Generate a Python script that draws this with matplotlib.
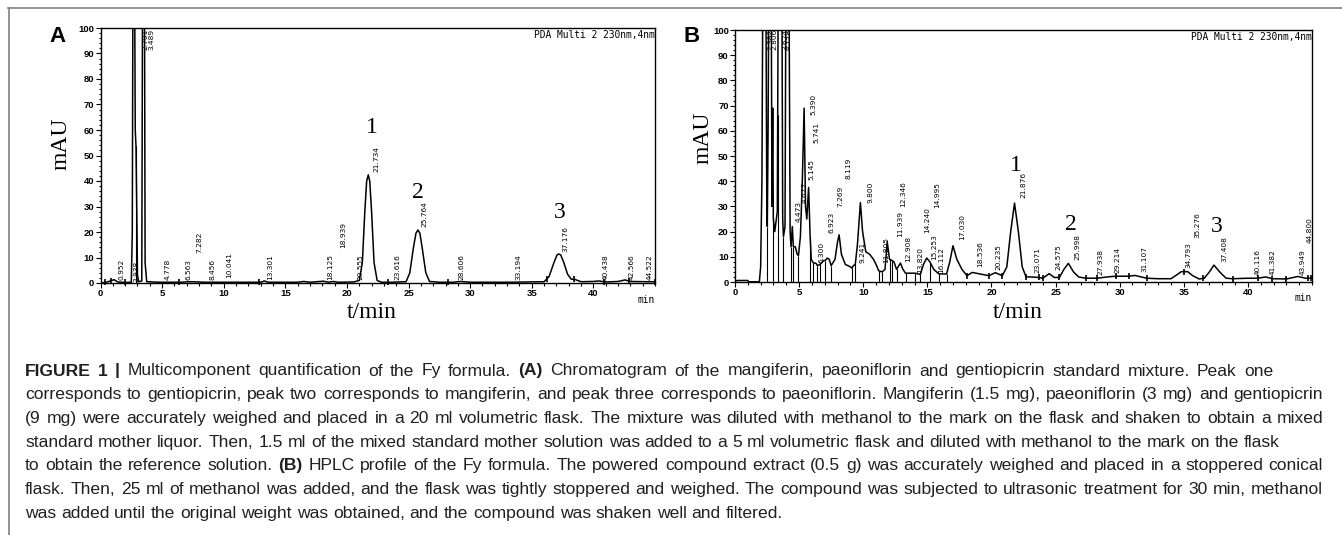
import numpy as np
import matplotlib
matplotlib.use('Agg')
import matplotlib.pyplot as plt
from matplotlib import font_manager
from matplotlib.font_manager import FontProperties
from matplotlib.lines import Line2D
from matplotlib.ticker import MultipleLocator


def pick_font(*names):
    have = {f.name for f in font_manager.fontManager.ttflist}
    for n in names:
        if n in have:
            return n
    return 'DejaVu Sans'


narrow = pick_font('Liberation Sans Narrow', 'DejaVu Sans Condensed', 'DejaVu Sans')
narrow_size = 6.2 if narrow == 'Liberation Sans Narrow' else 5.3
sans = pick_font('Liberation Sans', 'Arial')
serif = pick_font('Liberation Serif', 'DejaVu Serif')
mono = 'DejaVu Sans Mono'

# ---- Panel A: standard mixture (time in min, signal in mAU) ----
a_time = [0, 0.4, 0.8, 1.1, 1.4, 2.0, 2.5, 2.58, 2.64, 2.76, 2.82, 2.88, 2.94, 3.0, 3.1,
          3.35, 3.42, 3.56, 3.62, 3.75, 4.8, 6.5, 7.3, 8.5, 10.0, 13.0, 13.3, 13.6, 16.0,
          16.5, 17.0, 18.1, 18.5, 18.9, 19.3, 20.55, 21.0, 21.25, 21.45, 21.6, 21.73, 21.85,
          22.0, 22.2, 22.45, 22.8, 23.6, 24.8, 25.1, 25.4, 25.6, 25.76, 25.92, 26.1, 26.4,
          26.7, 27.5, 28.6, 29.2, 30.0, 33.2, 36.0, 36.4, 36.8, 37.05, 37.18, 37.35, 37.6,
          37.9, 38.2, 38.5, 39.0, 40.0, 40.44, 41.0, 42.0, 42.57, 43.0, 44.5, 45]
a_mau = [0, 0.2, 0.8, 1.3, 0.4, 0.2, 0.3, 20, 130, 130, 60, 53.7, 30, 3, 0.5,
         0.8, 130, 130, 8, 0.5, 0.3, 0.3, 0.5, 0.3, 0.3, 0.3, 0.8, 0.3, 0.3,
         0.6, 0.3, 0.7, 0.3, 0.6, 0.3, 0.4, 1, 8, 28, 40, 42.4, 40,
         28, 8, 1, 0.3, 0.3, 0.5, 4, 14, 19.5, 20.8, 19.5, 14, 4,
         0.6, 0.3, 0.3, 0.6, 0.3, 0.3, 0.5, 2.5, 8, 11, 11.4, 11, 8,
         3.5, 1.5, 1.4, 0.5, 0.6, 0.8, 0.4, 0.6, 1.2, 0.6, 0.5, 0.5]
a_drops = [2.88]
a_marks = [0.4, 0.87, 2.0, 6.4, 12.9, 23.3, 28.2, 36.2, 38.4, 40.9, 42.9, 45.0]
a_labels = ['0.952', '2.938', '2.701', '3.489', '4.778', '6.563', '7.282', '8.456', '10.041',
            '13.301', '18.125', '18.939', '20.555', '21.734', '23.616', '25.764', '28.606',
            '33.194', '37.176', '40.438', '42.566', '44.522']
a_label_x = [1.68, 2.9, 3.65, 4.15, 5.44, 7.15, 8.04, 9.1, 10.48,
             13.73, 18.6, 19.66, 21.1, 22.4, 24.13, 26.3, 29.3,
             33.9, 37.7, 41.0, 43.1, 44.6]
a_label_y = [1.2, 0.2, 91.4, 91.4, 1.2, 1.2, 11.8, 1.2, 2.0,
             1.2, 1.2, 13.7, 1.2, 43.5, 1.2, 22.0, 1.2,
             1.2, 12.0, 1.2, 1.2, 1.2]
a_peak_no = ['1', '2', '3']
a_peak_x = [22.0, 25.75, 37.3]
a_peak_y = [60.8, 35.3, 27.5]

# ---- Panel B: Fy formula extract ----
b_time = [0, 0.2, 1.0, 1.05, 1.9, 2.0, 2.1, 2.18, 2.4, 2.48, 2.52, 2.58, 2.65, 2.82, 2.88,
          2.94, 2.99, 3.1, 3.3, 3.38, 3.65, 3.72, 3.78, 3.9, 3.98, 4.2, 4.3, 4.37, 4.47,
          4.55, 4.7, 4.85, 4.95, 5.1, 5.25, 5.39, 5.5, 5.6, 5.74, 5.86, 5.95, 6.12, 6.3,
          6.43, 6.64, 6.92, 7.03, 7.2, 7.35, 7.5, 7.8, 8.0, 8.12, 8.3, 8.6, 9.0, 9.12,
          9.24, 9.38, 9.55, 9.78, 9.95, 10.2, 10.5, 10.8, 11.0, 11.2, 11.46, 11.7, 11.87,
          12.05, 12.25, 12.4, 12.6, 12.9, 13.1, 13.3, 14.05, 14.45, 14.7, 14.95, 15.2,
          15.5, 15.9, 16.5, 16.75, 17.0, 17.3, 17.7, 18.1, 18.5, 19.0, 19.8, 20.3, 20.85,
          21.2, 21.5, 21.8, 22.1, 22.4, 22.7, 23.1, 23.7, 24.0, 24.5, 24.9, 25.3, 25.65,
          26.0, 26.4, 26.8, 27.35, 28.25, 29.0, 29.7, 30.7, 31.2, 32.1, 33.0, 34.0, 34.5,
          34.8, 35.3, 35.7, 36.2, 36.6, 37.0, 37.35, 37.8, 38.3, 38.8, 40.0, 40.75, 41.4,
          41.9, 43.0, 43.9, 44.5, 45]
b_mau = [0.3, 0.6, 0.6, 0.1, 0.1, 6, 40, 130, 130, 30, 22, 60, 130, 130, 30,
         69, 25, 20, 28, 130, 130, 25, 18, 22, 130, 130, 20, 14, 22,
         14, 14, 11, 10.5, 18, 40, 69, 30, 25, 37.5, 18, 9, 7.5, 7.5,
         6.5, 7, 8.5, 8.5, 9.5, 9, 6.5, 9, 16, 18.7, 11, 7, 6, 5.5,
         6.5, 7, 15, 31.5, 20, 12, 11, 9, 7, 4.5, 4, 5, 16,
         9, 8.5, 8, 5, 7.5, 5, 3.5, 3.5, 3, 7, 9.5, 8,
         5, 3.2, 3.2, 8, 14.4, 9, 5, 2.5, 3.8, 3.3, 2.5, 3.7, 2.5,
         6, 20, 31.3, 20, 6, 2, 2, 1.8, 1.5, 3.3, 1.8, 1.8, 5,
         7.4, 4, 2, 1.5, 1.5, 2, 2.3, 2.3, 2.6, 1.5, 1.3, 1.3, 3,
         4.1, 4.1, 2.5, 1.2, 1.5, 4, 6.7, 4, 1.5, 1.3, 1.5, 1.5, 2,
         1.3, 1.2, 2.2, 1.5, 1.5]
b_drops = [2.52, 2.99, 3.33, 3.78, 4.37, 4.55, 4.95, 5.86, 6.12, 6.43, 6.64, 7.03, 7.5,
           9.12, 9.38, 11.2, 11.46, 12.05, 12.25, 12.6, 13.3, 14.05, 14.45, 15.2, 15.9, 16.5]
b_marks = [18.1, 19.8, 20.85, 22.7, 23.7, 24.0, 25.3, 27.35, 28.25, 29.7, 30.7, 32.1, 35.0,
           36.5, 38.8, 40.75, 41.9, 43.0, 44.7, 44.9]
b_labels = ['2.382', '2.806', '3.624', '4.118', '5.390', '5.741', '5.145', '4.677', '4.473',
            '6.300', '6.923', '7.269', '8.119', '9.241', '9.800', '11.805', '11.939', '12.346',
            '12.908', '13.820', '14.240', '14.995', '15.253', '16.112', '17.030', '18.536',
            '20.235', '21.876', '23.071', '24.575', '25.998', '27.938', '29.214', '31.107',
            '34.793', '35.276', '37.408', '40.116', '41.382', '43.949', '44.800']
b_label_x = [2.73, 3.05, 3.9, 4.22, 6.12, 6.38, 5.94, 5.47, 4.95,
             6.77, 7.55, 8.2, 8.85, 9.97, 10.55, 11.8, 12.9, 13.1,
             13.5, 14.45, 15.0, 15.8, 15.5, 16.1, 17.7, 19.1,
             20.55, 22.5, 23.6, 25.2, 26.7, 28.5, 29.8, 31.9,
             35.4, 36.1, 38.15, 40.75, 41.9, 44.3, 44.8]
b_label_y = [92, 92, 92, 92, 66.3, 55, 40.5, 31.3, 23.8,
             7.5, 19.4, 29.8, 41, 7.5, 31.3, 7.5, 18, 29.8,
             8, 3.5, 19.4, 29.3, 8.7, 3.5, 16.7, 6,
             4.8, 33.3, 3.5, 4.8, 8.7, 2.8, 3.5, 4,
             5.4, 17.5, 8, 2.6, 2.6, 2.6, 15.5]
b_peak_no = ['1', '2', '3']
b_peak_x = [21.9, 26.2, 37.6]
b_peak_y = [46.4, 23.0, 22.2]

W, H = 1342, 535
fig = plt.figure(figsize=(W / 100, H / 100), dpi=100)


def px(x, y):
    # pixel position from the top-left corner -> figure fraction
    return x / W, 1 - y / H


axA = fig.add_axes([100.5 / W, (H - 283) / H, 554.5 / W, 255 / H])
axB = fig.add_axes([735 / W, (H - 282) / H, 577 / W, 252 / H])


def style(ax):
    ax.set_xlim(0, 45)
    ax.set_ylim(0, 100)
    ax.set_xticks(range(0, 41, 5))
    ax.set_yticks(range(0, 101, 10))
    ax.xaxis.set_minor_locator(MultipleLocator(1))
    ax.yaxis.set_minor_locator(MultipleLocator(2))
    ax.tick_params(which='both', direction='out', width=0.8, pad=1, labelsize=6.8)
    ax.tick_params(which='major', length=3.5)
    ax.tick_params(which='minor', length=1.8)
    for lab in ax.get_xticklabels() + ax.get_yticklabels():
        lab.set_family(sans)
        lab.set_fontweight('bold')
    for s in ax.spines.values():
        s.set_linewidth(1.0)
    ax.text(0.999, 0.992, 'PDA Multi 2 230nm,4nm', transform=ax.transAxes, ha='right', va='top',
            fontsize=6.9, family=mono)


def draw(ax, t, y, drops, marks, labels, lx, ly, nums, nx, ny):
    ax.plot(t, y, color='black', lw=1.1)
    ax.vlines(drops, 0, np.interp(drops, t, y), color='black', lw=0.8)
    ax.plot(marks, np.interp(marks, t, y), ls='none', marker='|', ms=5, mew=1.2,
            color='black', clip_on=False)
    for s, x, yy in zip(labels, lx, ly):
        ax.text(x, yy, s, rotation=90, ha='center', va='bottom', fontsize=narrow_size,
                family=narrow, clip_on=False)
    for s, x, yy in zip(nums, nx, ny):
        ax.text(x, yy, s, ha='center', va='center', fontsize=17, family=serif)


style(axA)
style(axB)
draw(axA, a_time, a_mau, a_drops, a_marks, a_labels, a_label_x, a_label_y,
     a_peak_no, a_peak_x, a_peak_y)
draw(axB, b_time, b_mau, b_drops, b_marks, b_labels, b_label_x, b_label_y,
     b_peak_no, b_peak_x, b_peak_y)

# axis titles, panel letters
fig.text(*px(61, 144), 'mAU', rotation=90, ha='center', va='center', fontsize=17, family=serif)
fig.text(*px(703, 138), 'mAU', rotation=90, ha='center', va='center', fontsize=17, family=serif)
fig.text(*px(372, 313), 't/min', ha='center', va='center', fontsize=17, family=serif)
fig.text(*px(1018, 313), 't/min', ha='center', va='center', fontsize=17, family=serif)
fig.text(*px(655, 300), 'min', ha='right', va='center', fontsize=6.9, family=mono)
fig.text(*px(1312, 298), 'min', ha='right', va='center', fontsize=6.9, family=mono)
fig.text(*px(58, 37), 'A', ha='center', va='center', fontsize=16, family=sans, weight='bold')
fig.text(*px(692, 36), 'B', ha='center', va='center', fontsize=16, family=sans, weight='bold')

# frame
fig.add_artist(Line2D([8 / W, 1], [1 - 8 / H, 1 - 8 / H], transform=fig.transFigure,
                      color='#808080', lw=1.2))
fig.add_artist(Line2D([9 / W, 9 / W], [0, 1 - 8 / H], transform=fig.transFigure,
                      color='#808080', lw=1.2))

# caption
cap_lines = [
    [('FIGURE 1 |', True), ('Multicomponent quantification of the Fy formula.', False), ('(A)', True),
     ('Chromatogram of the mangiferin, paeoniflorin and gentiopicrin standard mixture. Peak one', False)],
    [('corresponds to gentiopicrin, peak two corresponds to mangiferin, and peak three corresponds '
      'to paeoniflorin. Mangiferin (1.5 mg), paeoniflorin (3 mg) and gentiopicrin', False)],
    [('(9 mg) were accurately weighed and placed in a 20 ml volumetric flask. The mixture was '
      'diluted with methanol to the mark on the flask and shaken to obtain a mixed', False)],
    [('standard mother liquor. Then, 1.5 ml of the mixed standard mother solution was added to a '
      '5 ml volumetric flask and diluted with methanol to the mark on the flask', False)],
    [('to obtain the reference solution.', False), ('(B)', True),
     ('HPLC profile of the Fy formula. The powered compound extract (0.5 g) was accurately weighed '
      'and placed in a stoppered conical', False)],
    [('flask. Then, 25 ml of methanol was added, and the flask was tightly stoppered and weighed. '
      'The compound was subjected to ultrasonic treatment for 30 min, methanol', False)],
    [('was added until the original weight was obtained, and the compound was shaken well and '
      'filtered.', False)],
]
cap_right = [1273, 1323, 1323, 1280, 1323, 1323, None]
cap_left = 25
cap_base = [375.5 + 23.7 * i for i in range(7)]

renderer = fig.canvas.get_renderer()


def measure(s, bold, size):
    prop = FontProperties(family=sans, weight='bold' if bold else 'normal', size=size)
    return renderer.get_text_width_height_descent(s, prop, ismath=False)[0]


words = []
for line in cap_lines:
    ws = []
    for text, bold in line:
        ws += [(w, bold) for w in text.split(' ')]
    words.append(ws)

# scale the caption font so the longest full line just fits its width
size = 11.2
space = measure('x x', False, size) - measure('xx', False, size)
ratio = 10.0
for ws, right in zip(words, cap_right):
    if right is None:
        continue
    natural = sum(measure(w, b, size) for w, b in ws) + space * (len(ws) - 1)
    ratio = min(ratio, (right - cap_left) / natural)
size = size * ratio * 0.998
space = measure('x x', False, size) - measure('xx', False, size)

for ws, right, yb in zip(words, cap_right, cap_base):
    widths = [measure(w, b, size) for w, b in ws]
    gap = space if right is None else (right - cap_left - sum(widths)) / (len(ws) - 1)
    x = cap_left
    for (w, b), wd in zip(ws, widths):
        fig.text(*px(x, yb), w, ha='left', va='baseline', fontsize=size, family=sans,
                 weight='bold' if b else 'normal', color='#231f20')
        x += wd + gap

fig.savefig('out.png', dpi=100)
